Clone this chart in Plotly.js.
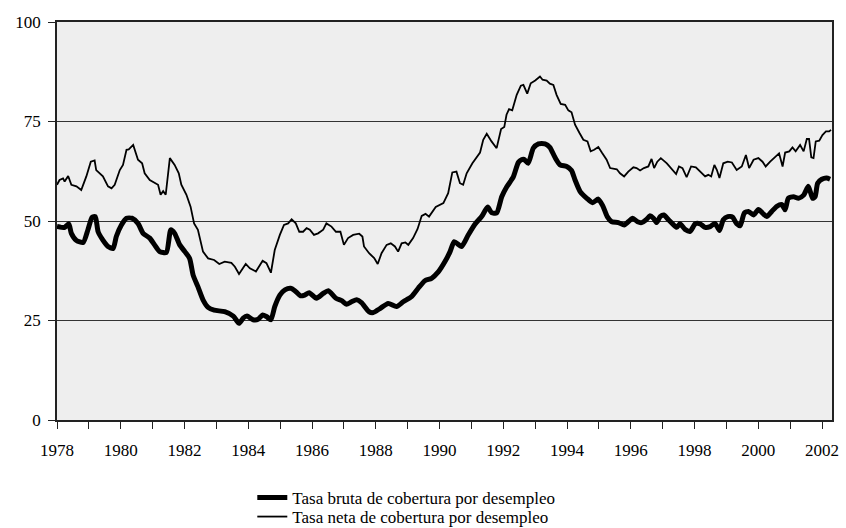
<!DOCTYPE html>
<html>
<head>
<meta charset="utf-8">
<script src="https://cdn.plot.ly/plotly-3.0.1.min.js"></script>
<style>
html,body{margin:0;padding:0;background:#fff;font-family:'Liberation Serif',serif}
#chart{width:846px;height:528px}
#chart text{font-family:'Liberation Serif',serif !important}
</style>
</head>
<body>
<div id="chart"></div>
<script>
const brutaYears = [1978.00,1978.14,1978.24,1978.37,1978.45,1978.61,1978.82,1978.97,1979.10,1979.20,1979.29,1979.44,1979.60,1979.76,1979.86,1980.02,1980.18,1980.35,1980.54,1980.70,1980.91,1981.06,1981.22,1981.43,1981.57,1981.69,1981.85,1982.01,1982.16,1982.27,1982.42,1982.58,1982.74,1982.93,1983.26,1983.53,1983.71,1983.84,1983.96,1984.15,1984.31,1984.45,1984.57,1984.71,1984.83,1984.99,1985.15,1985.33,1985.46,1985.64,1985.77,1985.91,1986.14,1986.35,1986.51,1986.75,1986.93,1987.08,1987.24,1987.40,1987.55,1987.79,1987.92,1988.13,1988.39,1988.65,1988.86,1989.12,1989.33,1989.54,1989.75,1989.96,1990.17,1990.33,1990.46,1990.69,1990.90,1991.11,1991.32,1991.51,1991.63,1991.79,1991.95,1992.10,1992.31,1992.47,1992.57,1992.65,1992.78,1992.94,1993.10,1993.31,1993.46,1993.62,1993.78,1993.99,1994.14,1994.25,1994.41,1994.62,1994.80,1994.98,1995.12,1995.26,1995.40,1995.61,1995.79,1995.92,1996.06,1996.21,1996.34,1996.48,1996.60,1996.71,1996.81,1996.92,1997.04,1997.18,1997.31,1997.44,1997.54,1997.70,1997.86,1998.02,1998.17,1998.33,1998.49,1998.64,1998.78,1998.90,1999.04,1999.19,1999.32,1999.43,1999.56,1999.69,1999.85,2000.00,2000.13,2000.26,2000.42,2000.58,2000.74,2000.84,2000.94,2001.10,2001.26,2001.42,2001.57,2001.70,2001.78,2001.86,2001.99,2002.14,2002.25];
const brutaValues = [48.6,48.4,48.4,49.3,46.9,45.1,44.6,47.8,50.9,51.1,47.3,45.2,43.6,43.1,46.1,49.0,50.7,50.7,49.4,46.9,45.7,44.0,42.3,42.1,47.8,46.9,44.0,42.3,40.6,36.4,33.5,30.2,28.3,27.6,27.2,26.1,24.3,25.6,26.1,25.2,25.3,26.4,26.0,25.2,28.5,31.4,32.7,33.1,32.5,31.2,31.4,32.0,30.6,31.8,32.5,30.6,30.0,29.1,29.7,30.2,29.5,27.2,27.0,28.0,29.3,28.5,29.7,31.0,33.1,35.0,35.6,37.2,39.8,42.3,44.8,43.6,46.5,49.2,51.1,53.5,52.1,52.0,56.1,58.5,61.0,64.7,65.4,65.5,64.5,68.3,69.4,69.4,68.5,66.0,64.1,63.7,62.7,60.3,57.4,55.7,54.6,55.5,53.8,51.1,49.8,49.6,49.0,49.8,50.7,49.8,49.6,50.3,51.3,50.7,49.6,51.1,51.5,50.3,49.3,48.4,49.3,47.9,47.4,49.3,49.3,48.4,48.6,49.4,47.6,50.3,51.1,51.0,49.3,48.8,52.0,52.4,51.5,52.9,52.0,51.1,52.4,53.7,54.1,52.8,55.7,56.1,55.7,56.5,58.7,55.7,56.1,59.5,60.5,60.8,60.5];

const netaYears = [1978.00,1978.08,1978.19,1978.24,1978.35,1978.45,1978.61,1978.76,1978.92,1979.06,1979.18,1979.23,1979.44,1979.60,1979.71,1979.81,1979.97,1980.07,1980.18,1980.25,1980.39,1980.54,1980.67,1980.75,1980.91,1981.06,1981.17,1981.25,1981.33,1981.41,1981.54,1981.69,1981.82,1981.90,1982.06,1982.19,1982.30,1982.42,1982.58,1982.74,1982.93,1983.09,1983.26,1983.47,1983.58,1983.71,1983.92,1984.05,1984.24,1984.45,1984.57,1984.71,1984.83,1984.99,1985.12,1985.25,1985.36,1985.49,1985.60,1985.72,1985.83,1985.93,1986.06,1986.19,1986.35,1986.45,1986.61,1986.75,1986.89,1987.00,1987.13,1987.29,1987.48,1987.58,1987.63,1987.79,1987.95,1988.06,1988.18,1988.34,1988.47,1988.60,1988.70,1988.81,1988.93,1989.02,1989.17,1989.31,1989.44,1989.56,1989.67,1989.88,1990.12,1990.27,1990.40,1990.53,1990.64,1990.74,1990.85,1991.03,1991.27,1991.37,1991.48,1991.63,1991.79,1991.93,1992.03,1992.10,1992.18,1992.28,1992.42,1992.55,1992.63,1992.75,1992.86,1993.00,1993.15,1993.23,1993.36,1993.46,1993.57,1993.67,1993.80,1993.94,1994.04,1994.14,1994.25,1994.39,1994.51,1994.64,1994.74,1994.85,1994.98,1995.09,1995.24,1995.35,1995.56,1995.66,1995.79,1995.92,1996.08,1996.18,1996.29,1996.41,1996.55,1996.65,1996.73,1996.83,1996.94,1997.13,1997.28,1997.42,1997.51,1997.62,1997.75,1997.89,1998.04,1998.17,1998.33,1998.43,1998.52,1998.62,1998.70,1998.78,1998.90,1999.04,1999.17,1999.32,1999.48,1999.61,1999.71,1999.85,2000.00,2000.13,2000.23,2000.37,2000.53,2000.65,2000.76,2000.84,2000.97,2001.07,2001.17,2001.31,2001.42,2001.52,2001.59,2001.66,2001.73,2001.80,2001.91,2002.01,2002.12,2002.22,2002.28];
const netaValues = [59.1,60.3,60.7,59.9,61.3,59.1,58.7,57.8,61.2,64.9,65.2,62.8,61.2,58.7,58.2,59.1,62.8,64.1,67.9,68.0,69.1,65.4,64.5,62.0,60.3,59.5,59.1,56.6,57.5,56.6,65.8,64.1,62.0,59.1,56.6,53.6,49.4,47.8,42.3,40.6,40.2,39.2,39.8,39.5,38.5,36.7,39.2,38.1,37.3,40.0,39.4,37.0,42.7,46.5,49.0,49.4,50.4,49.4,47.3,47.3,48.2,47.8,46.5,46.9,47.8,49.4,48.6,47.3,47.3,44.0,45.7,46.5,46.8,46.1,43.6,41.9,40.7,39.2,41.9,44.0,44.4,43.6,42.3,44.4,44.6,44.0,45.7,48.0,51.3,51.8,51.1,53.5,54.5,57.0,62.2,62.4,59.5,59.1,62.0,64.5,67.2,70.4,71.9,70.0,68.3,73.1,73.6,76.7,78.1,77.8,81.7,84.0,84.2,82.0,84.6,85.3,86.3,85.5,85.3,84.5,84.2,81.7,79.4,79.2,77.8,77.3,74.2,72.1,70.4,70.0,67.5,67.9,68.6,67.2,65.4,63.3,63.0,62.0,61.2,62.4,63.5,63.3,62.7,63.3,63.7,65.6,63.3,64.9,65.8,64.5,63.1,61.8,63.7,63.3,61.0,63.7,63.5,62.4,61.2,61.6,61.2,64.1,62.8,60.8,64.5,64.9,64.7,62.8,63.7,66.6,63.3,65.4,65.8,64.9,63.7,64.9,66.2,67.0,63.7,67.2,67.5,68.5,67.5,69.1,67.5,70.6,70.6,66.0,65.8,70.0,70.2,71.6,72.5,72.5,72.9];

const seriesNames = ['Tasa bruta de cobertura por desempleo', 'Tasa neta de cobertura por desempleo'];
const xTickYears = [1978,1979,1980,1981,1982,1983,1984,1985,1986,1987,1988,1989,1990,1991,1992,1993,1994,1995,1996,1997,1998,1999,2000,2001,2002];
const xTickLabels = xTickYears.map(y => (y % 2 === 0 ? String(y) : ''));
const yTicks = [0,25,50,75,100];

const FONT = 'Liberation Serif';

const traces = [
  {x: brutaYears, y: brutaValues, name: seriesNames[0], type: 'scatter', mode: 'lines',
   legend: 'legend', line: {color: '#000', width: 5, shape: 'spline', smoothing: 0.6}},
  {x: netaYears, y: netaValues, name: seriesNames[1], type: 'scatter', mode: 'lines',
   legend: 'legend2', line: {color: '#000', width: 1.8}}
];

const legendCommon = {x: 0.252, xanchor: 'left', yref: 'container', yanchor: 'middle',
  font: {family: FONT, size: 17, color: '#000'}, bgcolor: 'rgba(0,0,0,0)', borderwidth: 0};

const layout = {
  width: 846, height: 528,
  margin: {l: 57, r: 14, t: 22, b: 108},
  paper_bgcolor: '#ffffff',
  plot_bgcolor: '#eeeeee',
  font: {family: FONT, size: 17, color: '#000'},
  showlegend: true,
  legend: Object.assign({}, legendCommon, {y: 0.0568}),
  legend2: Object.assign({}, legendCommon, {y: 0.0208}),
  xaxis: {range: [1978, 2002.31], tickvals: xTickYears, ticktext: xTickLabels,
          ticks: 'outside', ticklen: 7, tickcolor: '#222', tickwidth: 1,
          showgrid: false, zeroline: false, showline: true, linecolor: '#222', linewidth: 1.5,
          mirror: true, ticklabelstandoff: 7, tickfont: {family: FONT, size: 17, color: '#000'}},
  yaxis: {range: [0, 100], tickvals: yTicks, ticks: 'outside', ticklen: 7, tickcolor: '#222',
          showgrid: true, gridcolor: '#333', gridwidth: 1, zeroline: false,
          showline: true, linecolor: '#222', linewidth: 1.5, mirror: true,
          ticklabelstandoff: 4, tickfont: {family: FONT, size: 17, color: '#000'}}
};

Plotly.newPlot('chart', traces, layout, {displayModeBar: false});
</script>
</body>
</html>
